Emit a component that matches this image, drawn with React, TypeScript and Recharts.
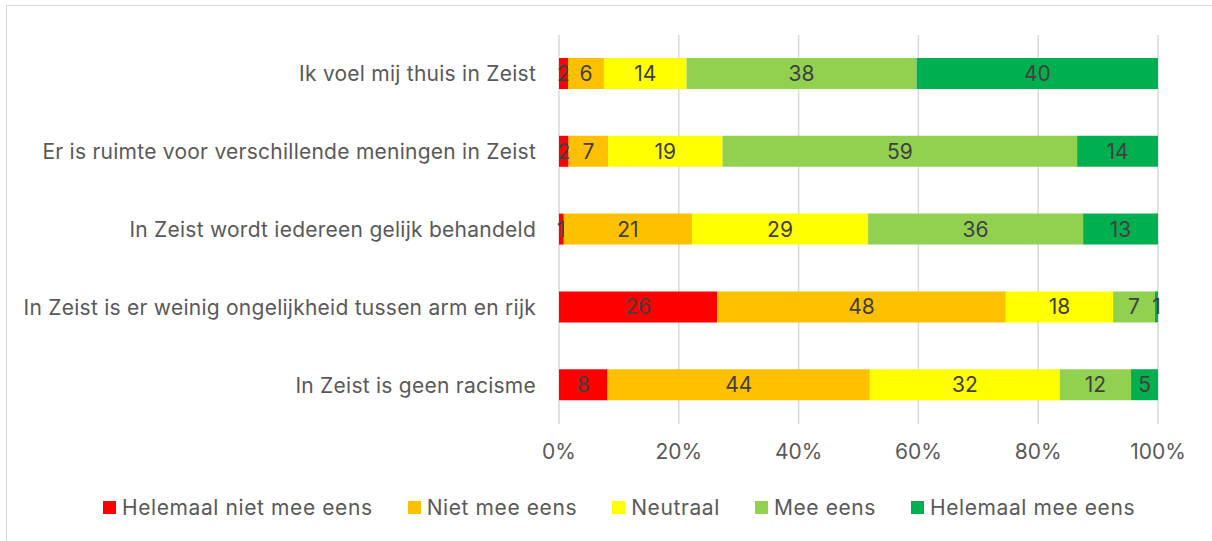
import React from "react";
import { BarChart, Bar, XAxis, YAxis, CartesianGrid, LabelList } from "recharts";

const categories = [
  "Ik voel mij thuis in Zeist",
  "Er is ruimte voor verschillende meningen in Zeist",
  "In Zeist wordt iedereen gelijk behandeld",
  "In Zeist is er weinig ongelijkheid tussen arm en rijk",
  "In Zeist is geen racisme",
];
const helemaalNiet = [1.5, 1.6, 0.8, 26.4, 8.1];
const nietMee = [6.0, 6.6, 21.4, 48.2, 43.8];
const neutraal = [13.8, 19.1, 29.4, 17.9, 31.7];
const meeEens = [38.4, 59.2, 35.9, 7.0, 11.9];
const helemaalMee = [40.3, 13.5, 12.5, 0.5, 4.5];

const seriesNames = ["Helemaal niet mee eens", "Niet mee eens", "Neutraal", "Mee eens", "Helemaal mee eens"];
const seriesColors = ["#FF0000", "#FFC000", "#FFFF00", "#92D050", "#00B050"];
const xTicks = [0, 0.2, 0.4, 0.6, 0.8, 1];

const seriesValues = [helemaalNiet, nietMee, neutraal, meeEens, helemaalMee];
const data = categories.map((name, i) => {
  const row: Record<string, string | number> = { name };
  seriesNames.forEach((s, k) => {
    row[s] = seriesValues[k][i];
  });
  return row;
});

const FONT = "Inter, sans-serif";
const TEXT = "#595959";

export default function App() {
  return (
    <div style={{ position: "fixed", left: 0, top: 0, width: 1212, height: 541, overflow: "hidden", background: "#fff", fontFamily: FONT }}>
      <div style={{ position: "absolute", left: 6, top: 5, width: 1240, height: 560, border: "1.5px solid #D9D9D9", boxSizing: "border-box" }} />
      <div style={{ position: "absolute", left: 0, top: 0 }}>
        <BarChart
          width={1212}
          height={541}
          data={data}
          layout="vertical"
          stackOffset="expand"
          barSize={31}
          margin={{ top: 35, right: 54, bottom: 77, left: 0 }}
        >
          <CartesianGrid horizontal={false} stroke="#D9D9D9" strokeWidth={1.5} />
          <XAxis
            type="number"
            domain={[0, 1]}
            ticks={xTicks}
            height={40}
            axisLine={false}
            tickLine={false}
            tickMargin={14}
            tickFormatter={(v: number) => `${Math.round(v * 100)}%`}
            tick={{ fontSize: 21, fill: TEXT, fontFamily: FONT }}
          />
          <YAxis
            type="category"
            dataKey="name"
            width={559}
            axisLine={false}
            tickLine={false}
            tickMargin={17}
            tick={{ fontSize: 21, fill: TEXT, fontFamily: FONT, letterSpacing: 0.25 }}
          />
          {seriesNames.map((s, k) => (
            <Bar key={s} dataKey={s} stackId="a" fill={seriesColors[k]} isAnimationActive={false}>
              <LabelList
                dataKey={s}
                position="center"
                formatter={(v: number) => Math.round(v)}
                style={{ fontSize: 21, fill: "#404040", fontFamily: FONT }}
              />
            </Bar>
          ))}
        </BarChart>
      </div>
      <div style={{ position: "absolute", left: 103, top: 495, display: "flex", alignItems: "center", fontSize: 21, letterSpacing: 0.6, color: TEXT }}>
        {seriesNames.map((s, k) => (
          <div key={s} style={{ display: "flex", alignItems: "center", marginRight: 35 }}>
            <div style={{ width: 13, height: 13, background: seriesColors[k], marginRight: 6 }} />
            <span>{s}</span>
          </div>
        ))}
      </div>
    </div>
  );
}
